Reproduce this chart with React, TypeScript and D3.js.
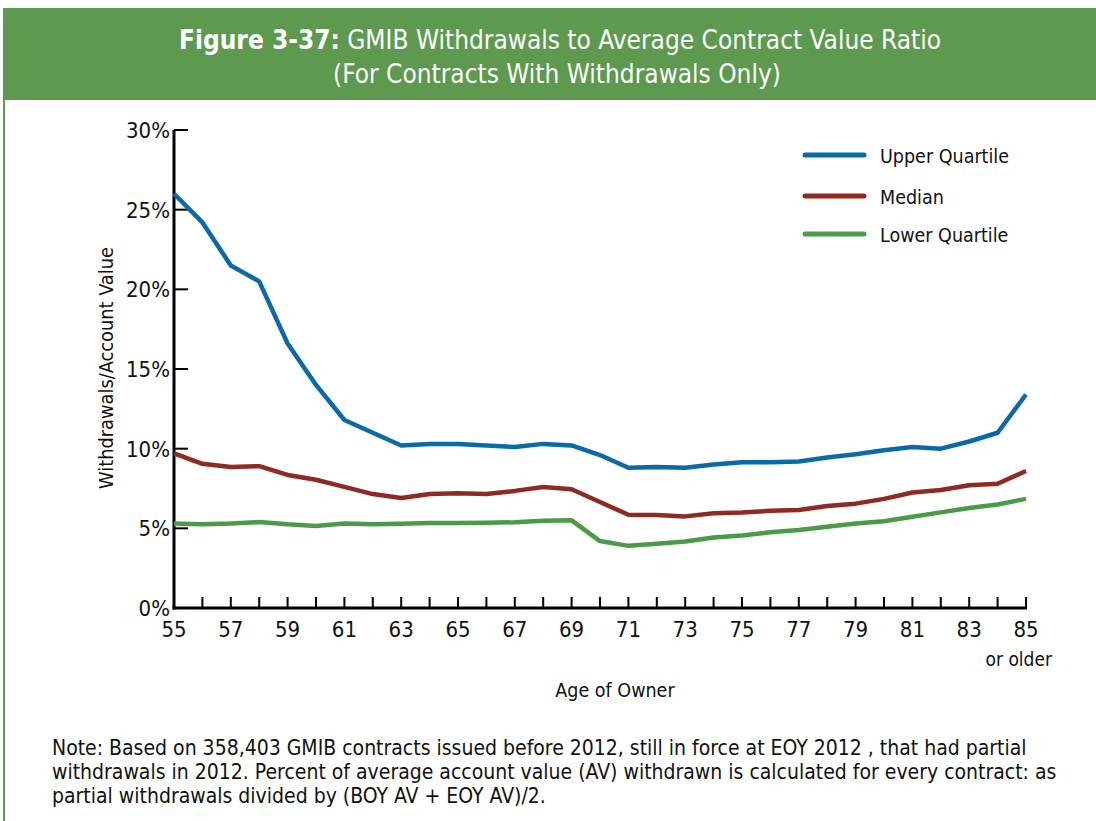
import React from "react";
import * as d3 from "d3";

const ages = [55,56,57,58,59,60,61,62,63,64,65,66,67,68,69,70,71,72,73,74,75,76,77,78,79,80,81,82,83,84,85];
const upperQuartile = [26.0,24.2,21.5,20.5,16.6,14.0,11.8,11.0,10.2,10.3,10.3,10.2,10.1,10.3,10.2,9.6,8.8,8.85,8.8,9.0,9.15,9.15,9.2,9.45,9.65,9.9,10.1,10.0,10.45,11.0,13.4];
const median = [9.7,9.05,8.85,8.9,8.35,8.05,7.6,7.15,6.9,7.15,7.2,7.15,7.35,7.6,7.45,6.65,5.85,5.83,5.75,5.95,6.0,6.1,6.15,6.4,6.55,6.85,7.25,7.4,7.7,7.8,8.6];
const lowerQuartile = [5.3,5.25,5.3,5.4,5.25,5.15,5.3,5.25,5.28,5.33,5.33,5.35,5.38,5.47,5.5,4.2,3.9,4.03,4.18,4.43,4.55,4.75,4.9,5.1,5.3,5.45,5.73,6.0,6.28,6.5,6.85];
const yTicks = [0,5,10,15,20,25,30];
const xTickLabels = [55,57,59,61,63,65,67,69,71,73,75,77,79,81,83,85];
const seriesNames = ["Upper Quartile","Median","Lower Quartile"];
const seriesColors = ["#0a6aa8","#8f2a23","#4b9a47"];

const FONT = "'DejaVu Sans Condensed', 'Liberation Sans Narrow', 'Open Sans', sans-serif";

export default function App() {
  const W = 1096, H = 821;
  const x = d3.scaleLinear().domain([55, 85]).range([174, 1026]);
  const y = d3.scaleLinear().domain([0, 30]).range([608, 130]);
  const line = d3.line<number>().x((_, i) => x(ages[i])).y(d => y(d));
  const series = [upperQuartile, median, lowerQuartile];

  return (
    <svg width={W} height={H} style={{ position: "absolute", left: 0, top: 0, background: "#fff" }} fontFamily={FONT}>
      <rect x={0} y={0} width={W} height={H} fill="#fff" />
      <rect x={3} y={8} width={W - 3} height={92} fill="#5d9a50" />
      <line x1={4} y1={8} x2={4} y2={H} stroke="#5d9a50" strokeWidth={2} />
      <text x={560} y={49} textAnchor="middle" fill="#fff" fontSize={26}>
        <tspan fontWeight="bold">Figure 3-37:</tspan> GMIB Withdrawals to Average Contract Value Ratio
      </text>
      <text x={557} y={83} textAnchor="middle" fill="#fff" fontSize={26}>(For Contracts With Withdrawals Only)</text>

      {/* axes */}
      <line x1={x(55)} y1={y(30)} x2={x(55)} y2={y(0) + 1.5} stroke="#000" strokeWidth={3} />
      <line x1={x(55) - 1.5} y1={y(0)} x2={x(85) + 1} y2={y(0)} stroke="#000" strokeWidth={3} />
      {yTicks.map(t => (
        <g key={t}>
          {t > 0 && <line x1={x(55)} x2={x(55) + 14} y1={y(t)} y2={y(t)} stroke="#000" strokeWidth={2} />}
          <text x={x(55) - 4} y={y(t) + 8} textAnchor="end" fontSize={22} fill="#111">{t}%</text>
        </g>
      ))}
      {ages.slice(1).map(a => (
        <line key={a} x1={x(a)} x2={x(a)} y1={y(0)} y2={y(0) - 11} stroke="#000" strokeWidth={2} />
      ))}
      {xTickLabels.map(a => (
        <text key={a} x={x(a)} y={y(0) + 29} textAnchor="middle" fontSize={22} fill="#111">{a}</text>
      ))}
      <text x={1052} y={666} textAnchor="end" fontSize={19} fill="#111">or older</text>
      <text x={615} y={697} textAnchor="middle" fontSize={19.5} fill="#111">Age of Owner</text>
      <text transform={`translate(113,368) rotate(-90)`} textAnchor="middle" fontSize={19.8} fill="#111">Withdrawals/Account Value</text>

      {series.map((s, i) => (
        <path key={i} d={line(s) || ""} fill="none" stroke={seriesColors[i]} strokeWidth={4.5} strokeLinejoin="round" />
      ))}

      {seriesNames.map((n, i) => {
        const ly = [155, 196, 234][i];
        return (
          <g key={n}>
            <line x1={805} x2={864} y1={ly} y2={ly} stroke={seriesColors[i]} strokeWidth={5} strokeLinecap="round" />
            <text x={880} y={ly + 8} fontSize={19.5} fill="#111">{n}</text>
          </g>
        );
      })}

      <text fontSize={21} fill="#111">
        <tspan x={52} y={755}>Note: Based on 358,403 GMIB contracts issued before 2012, still in force at EOY 2012 , that had partial</tspan>
        <tspan x={52} y={779}>withdrawals in 2012. Percent of average account value (AV) withdrawn is calculated for every contract: as</tspan>
        <tspan x={52} y={803}>partial withdrawals divided by (BOY AV + EOY AV)/2.</tspan>
      </text>
    </svg>
  );
}
